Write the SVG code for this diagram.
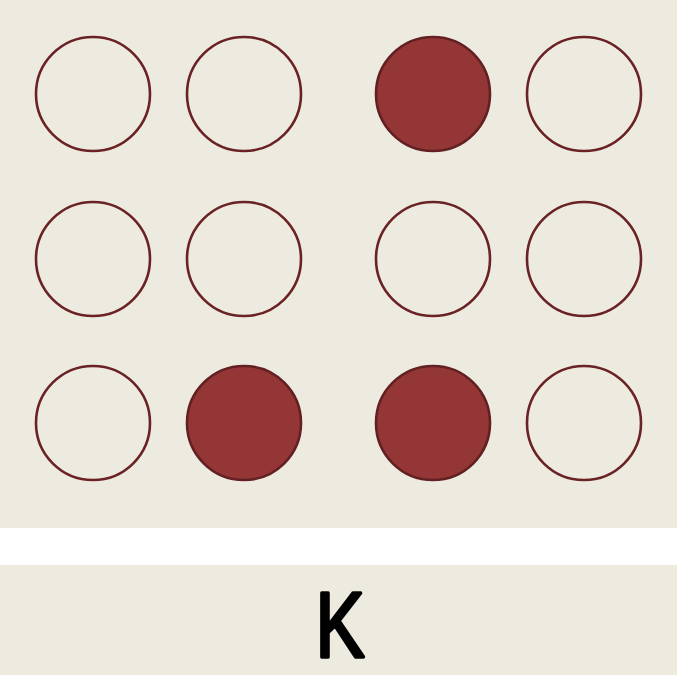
<svg xmlns="http://www.w3.org/2000/svg" width="677" height="675" viewBox="0 0 677 675">
<style>
.bg{fill:#EDEBE0}
.dot{fill:none;stroke:#6A2224;stroke-width:2.6}
.on{fill:#943636;stroke:#632022;stroke-width:2.6}
.lbl{font-family:"Liberation Sans","DejaVu Sans",sans-serif;font-size:92px;fill:#000;stroke:#000;stroke-width:3.5;stroke-linejoin:round;stroke-linecap:round;text-anchor:middle}
</style>
<rect x="0" y="0" width="677" height="675" fill="#FFFFFF"/>
<rect class="bg" x="0" y="0" width="677" height="528"/>
<rect class="bg" x="0" y="565" width="677" height="110"/>
<g id="cells">
<g id="c1"><circle class="dot" cx="93" cy="94" r="57"/></g>
<g id="c2"><circle class="dot" cx="244" cy="94" r="57"/></g>
<g id="c3"><circle class="on" cx="433" cy="94" r="57"/></g>
<g id="c4"><circle class="dot" cx="584" cy="94" r="57"/></g>
<g id="c5"><circle class="dot" cx="93" cy="259" r="57"/></g>
<g id="c6"><circle class="dot" cx="244" cy="259" r="57"/></g>
<g id="c7"><circle class="dot" cx="433" cy="259" r="57"/></g>
<g id="c8"><circle class="dot" cx="584" cy="259" r="57"/></g>
<g id="c9"><circle class="dot" cx="93" cy="423" r="57"/></g>
<g id="c10"><circle class="on" cx="244" cy="423" r="57"/></g>
<g id="c11"><circle class="on" cx="433" cy="423" r="57"/></g>
<g id="c12"><circle class="dot" cx="584" cy="423" r="57"/></g>
</g>
<g id="connectors"></g>
<g id="label"><text class="lbl" transform="translate(340,657) scale(0.8,1)">K</text></g>
</svg>
